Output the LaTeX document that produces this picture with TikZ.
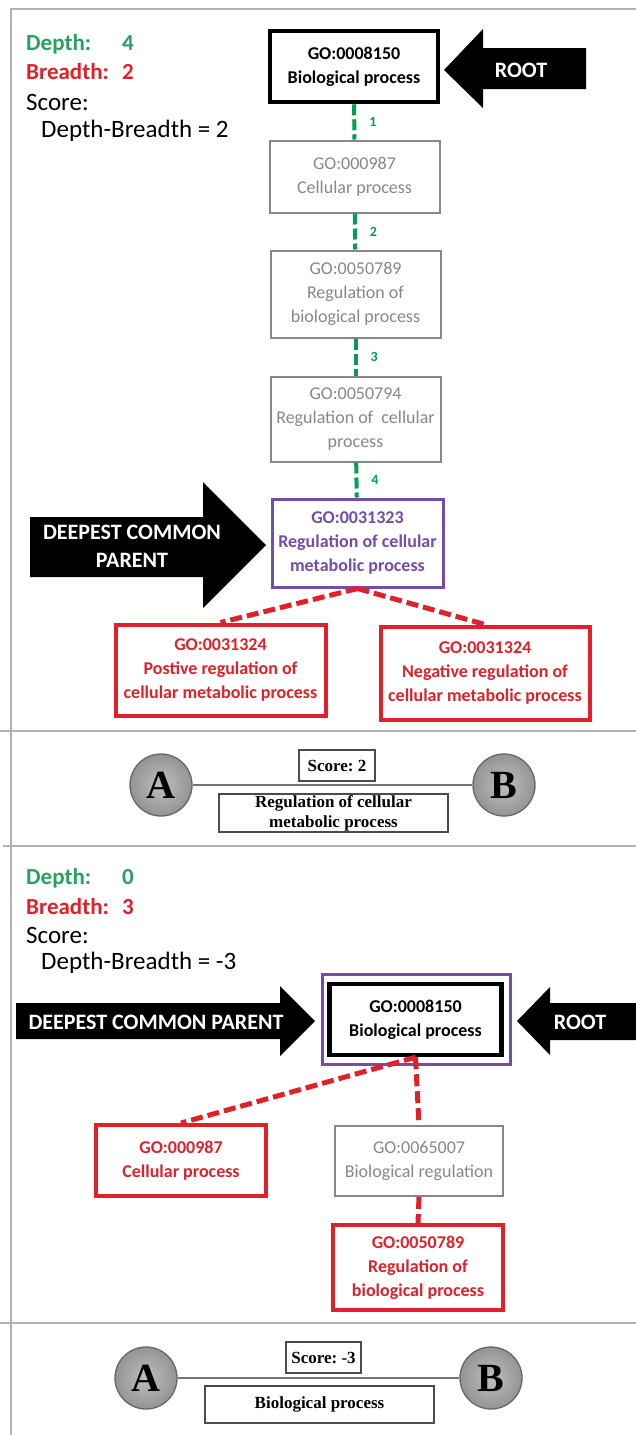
\documentclass[tikz,border=0pt]{standalone}
\usepackage{fontspec}
\setmainfont{Carlito}
\newfontfamily\abfont{Liberation Serif}
\usetikzlibrary{positioning}
\frenchspacing
\definecolor{linkgreen}{RGB}{0, 160, 80}
\definecolor{textgreen}{RGB}{40, 160, 95}
\definecolor{termred}{RGB}{225, 32, 42}
\definecolor{termpurple}{RGB}{116, 76, 170}
\definecolor{termgray}{RGB}{135, 135, 135}
\definecolor{framegray}{RGB}{178, 178, 178}

\begin{document}
\begin{tikzpicture}[x=1pt,y=-1pt,
	termbox/.style={draw,align=center,inner sep=0pt,font=\fontsize{18}{24}\selectfont\bfseries},
	rootbox/.style={termbox,line width=4.5pt,minimum width=168pt,minimum height=71pt},
	graybox/.style={termbox,draw=termgray,text=termgray,line width=2pt,font=\fontsize{18}{24}\selectfont,minimum width=170pt},
	redbox/.style={termbox,draw=termred,text=termred,line width=4pt},
	parentbox/.style={termbox,draw=termpurple,text=termpurple,line width=3pt},
	greenlink/.style={draw=linkgreen,line width=4pt,dash pattern=on 11pt off 4pt},
	redlink/.style={draw=termred,line width=5pt,dash pattern=on 12pt off 5pt},
	steplabel/.style={midway,anchor=west,xshift=13pt,inner sep=0pt,text=linkgreen,font=\fontsize{14}{14}\selectfont\bfseries},
	arrowtext/.style={text=white,align=center,inner sep=0pt,font=\fontsize{22}{28}\selectfont\bfseries},
	infotext/.style={anchor=west,inner sep=0pt,font=\fontsize{25}{25}\selectfont},
	counttext/.style={anchor=west,inner sep=0pt,font=\fontsize{23}{23}\selectfont\bfseries},
	abnode/.style={circle,draw=black!60,line width=1.3pt,inner color=black!25,outer color=black!42,minimum size=62pt,inner sep=0pt,font=\abfont\bfseries\fontsize{40}{40}\selectfont},
	abline/.style={draw=black!55,line width=1.8pt},
	scorebox/.style={draw=black!70,line width=1.1pt,align=center,inner sep=0pt,font=\abfont\bfseries\fontsize{17}{20}\selectfont},
	frameline/.style={draw=framegray,line width=1.5pt}
]
\useasboundingbox (0,0) rectangle (636,1435);
\draw[frameline] (11,1435) -- (11,9) -- (636,9);
\draw[frameline] (0,731) -- (636,731);
\draw[frameline] (3,846) -- (636,846);
\draw[frameline] (0,1323) -- (636,1323);

\node[counttext,text=textgreen] (depth1) at (26,44) {\makebox[96pt][l]{Depth:}4};
\node[counttext,text=termred] (breadth1) at (26,72) {\makebox[96pt][l]{Breadth:}2};
\node[infotext] (score1) at (26,102) {Score:};
\node[infotext] (formula1) at (41,131) {Depth-Breadth = 2};

\node[rootbox] (root1) at (354,66.5) {GO:0008150\\Biological process};
\node[graybox,minimum height=72pt] (cell1) at (354.5,176.5) {GO:000987\\Cellular process};
\node[graybox,minimum height=87pt] (bioreg1) at (355.5,294) {GO:0050789\\Regulation of\\biological process};
\node[graybox,minimum height=85pt] (cellreg1) at (355.5,419) {GO:0050794\\Regulation of\ \ cellular\\process};
\node[parentbox,minimum width=171pt,minimum height=88pt] (metreg1) at (357.5,543) {GO:0031323\\Regulation of cellular\\metabolic process};
\node[redbox,minimum width=210pt,minimum height=91pt] (posreg1) at (220.5,670) {GO:0031324\\Postive regulation of\\cellular metabolic process};
\node[redbox,minimum width=209pt,minimum height=93pt] (negreg1) at (485,673) {GO:0031324\\Negative regulation of\\cellular metabolic process};

\draw[greenlink] (root1) -- node[steplabel] (n1) {1} (cell1);
\draw[greenlink] (cell1) -- node[steplabel] (n2) {2} (bioreg1);
\draw[greenlink] (bioreg1) -- node[steplabel] (n3) {3} (cellreg1);
\draw[greenlink] (cellreg1) -- node[steplabel] (n4) {4} (metreg1);
\draw[redlink] (metreg1.south) -- (posreg1.north);
\draw[redlink] (metreg1.south) -- (negreg1.north);

\fill (444,70) -- (483,29) -- (483,48) -- (586,48) -- (586,89) -- (483,89) -- (483,108) -- cycle;
\node[arrowtext] (roottag1) at (521,70) {ROOT};
\fill (30,517) -- (203,517) -- (203,482) -- (266,545) -- (203,608) -- (203,577) -- (30,577) -- cycle;
\node[arrowtext] (parenttag1) at (132,546) {DEEPEST COMMON\\PARENT};

\node[abnode] (a1) at (161,785) {A};
\node[abnode] (b1) at (504,785) {B};
\draw[abline] (a1) -- (b1);
\node[scorebox,fill=white,minimum width=76pt,minimum height=31pt] (scoretag1) at (337,765.5) {Score: 2};
\node[scorebox,fill=white,minimum width=229pt,minimum height=38pt] (parentname1) at (333.5,813) {Regulation of cellular\\metabolic process};

\node[counttext,text=textgreen] (depth2) at (26,878) {\makebox[96pt][l]{Depth:}0};
\node[counttext,text=termred] (breadth2) at (26,907) {\makebox[96pt][l]{Breadth:}3};
\node[infotext] (score2) at (26,935) {Score:};
\node[infotext] (formula2) at (41,963) {Depth-Breadth = -3};

\node[parentbox,minimum width=188pt,minimum height=90pt] (parent2) at (416.5,1019.5) {};
\node[rootbox,minimum width=172pt,minimum height=71pt] (root2) at (415.5,1019.5) {GO:0008150\\Biological process};
\node[redbox,minimum width=170pt,minimum height=71pt] (cell2) at (181,1160.5) {GO:000987\\Cellular process};
\node[graybox,minimum width=168pt,minimum height=70pt] (bioreg2) at (419,1161) {GO:0065007\\Biological regulation};
\node[redbox,minimum width=170pt,minimum height=85pt] (reg2) at (418,1267.5) {GO:0050789\\Regulation of\\biological process};

\draw[redlink] (root2.south) -- (cell2.north);
\draw[redlink] (root2.south) -- (bioreg2.north);
\draw[redlink] (bioreg2.south) -- (reg2.north);

\fill (16,1003) -- (280,1003) -- (280,986) -- (315,1021) -- (280,1056) -- (280,1039) -- (16,1039) -- cycle;
\node[arrowtext] (parenttag2) at (156,1022) {DEEPEST COMMON PARENT};
\fill (517,1021) -- (550,987) -- (550,1003) -- (636,1003) -- (636,1040) -- (550,1040) -- (550,1055) -- cycle;
\node[arrowtext] (roottag2) at (580,1022) {ROOT};

\node[abnode] (a2) at (146,1378) {A};
\node[abnode] (b2) at (491,1378) {B};
\draw[abline] (a2) -- (b2);
\node[scorebox,fill=white,minimum width=75pt,minimum height=31pt] (scoretag2) at (323.5,1357.5) {Score: -3};
\node[scorebox,fill=white,minimum width=229pt,minimum height=37pt] (parentname2) at (319.5,1404.5) {Biological process};
\end{tikzpicture}
\end{document}
